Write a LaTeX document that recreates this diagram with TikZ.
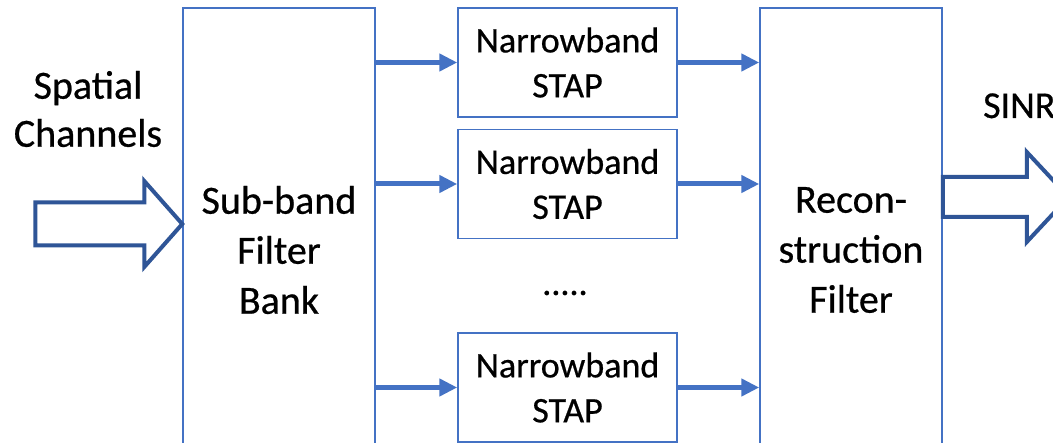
\documentclass[tikz,border=0pt]{standalone}
\usepackage{fontspec}
\setmainfont{Carlito}[FakeBold=0.6]
\usetikzlibrary{arrows.meta,calc}
\definecolor{boxblue}{HTML}{4472C4}
\definecolor{darkblue}{HTML}{2F5597}
\tikzset{
  bigbox/.style={draw=boxblue, line width=1.5pt, minimum width=192pt, minimum height=484pt, align=center, inner sep=0pt, font=\fontsize{40}{50}\selectfont},
  nbbox/.style={draw=boxblue, line width=1.5pt, minimum width=219pt, minimum height=109pt, align=center, inner sep=0pt, font=\fontsize{36}{45}\selectfont},
  flow/.style={draw=boxblue, line width=5pt, -{Triangle[length=18pt,width=17pt]}},
  hollow/.style={draw=darkblue, line width=4pt, fill=white, line join=miter},
  lbl/.style={font=\fontsize{40}{48}\selectfont, align=center, inner sep=0pt}
}
\begin{document}
\begin{tikzpicture}[x=1pt,y=-1pt]
\clip (0,0) rectangle (1053,443);
\fill[white] (0,0) rectangle (1053,443);
\node[bigbox] (sb) at (279,250) {Sub-band\\Filter\\Bank};
\node[bigbox, minimum width=182pt] (rf) at (851,250) {Recon-\\struction\\Filter};
\node[nbbox] (n1) at (567.5,62.5) {Narrowband\\STAP};
\node[nbbox] (n2) at (567.5,184) {Narrowband\\STAP};
\node[nbbox] (n3) at (567.5,387.5) {Narrowband\\STAP};
\node[font=\fontsize{36}{45}\selectfont, inner sep=0pt] (dots) at (565,293) {.....};
\foreach \n in {n1,n2,n3}{
  \draw[flow] (sb.east |- \n.west) -- (\n.west);
  \draw[flow] (\n.east) -- (rf.west |- \n.east);
}
\node[lbl] (sc) at (88,109) {Spatial\\Channels};
\node[lbl, font=\fontsize{38}{46}\selectfont, anchor=base west] (sinr) at (983,118) {SINR};
\coordinate (ltip) at (sb.west |- 0,224);
\draw[hollow] ($(ltip)+(-147,-21.5)$) -- ($(ltip)+(-38,-21.5)$) -- ($(ltip)+(-38,-43)$) -- (ltip) -- ($(ltip)+(-38,43)$) -- ($(ltip)+(-38,21.5)$) -- ($(ltip)+(-147,21.5)$) -- cycle;
\coordinate (rbase) at (rf.east |- 0,197);
\draw[hollow] ($(rbase)+(0,-20)$) -- ($(rbase)+(84,-20)$) -- ($(rbase)+(84,-45)$) -- ($(rbase)+(126,0)$) -- ($(rbase)+(84,45)$) -- ($(rbase)+(84,20)$) -- ($(rbase)+(0,20)$) -- cycle;
\end{tikzpicture}
\end{document}
